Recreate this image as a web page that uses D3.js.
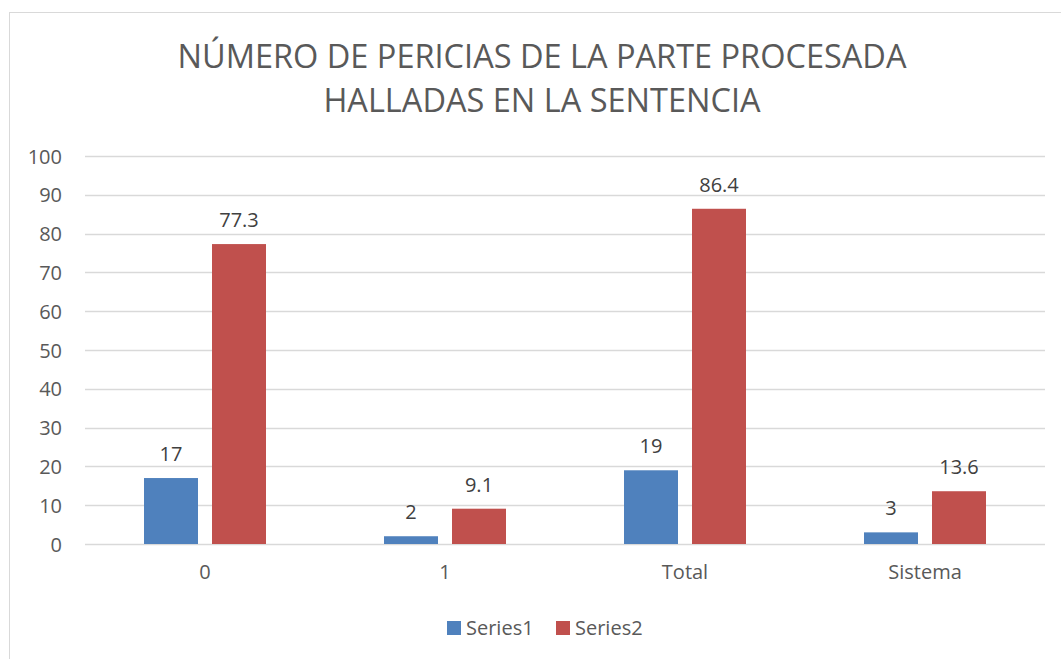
<!DOCTYPE html>
<html>
<head>
<meta charset="utf-8">
<script src="https://cdn.jsdelivr.net/npm/d3@7"></script>
<style>
  body { margin: 0; background: #fff; }
  svg { display: block; }
  text { font-family: "Open Sans", "Liberation Sans", sans-serif; fill: #595959; }
</style>
</head>
<body>
<svg id="chart" width="1061" height="659"></svg>
<script>
// datos del gráfico
const categories = ['0', '1', 'Total', 'Sistema']
const series1 = [17, 2, 19, 3]
const series2 = [77.3, 9.1, 86.4, 13.6]
const seriesNames = ['Series1', 'Series2']
const yTicks = [0, 10, 20, 30, 40, 50, 60, 70, 80, 90, 100]
const titleLines = ['NÚMERO DE PERICIAS DE LA PARTE PROCESADA', 'HALLADAS EN LA SENTENCIA']

const colors = ['#4F81BD', '#C0504D']
const width = 1061
const height = 659
const margin = { top: 156, right: 16, bottom: 115, left: 85 }
const groupWidth = 122

const svg = d3.select('#chart')

// borde del área del gráfico
svg.append('rect')
  .attr('x', 9.5).attr('y', 12.5)
  .attr('width', 1070).attr('height', 700)
  .attr('fill', 'none')
  .attr('stroke', '#d9d9d9')

// título
const title = svg.append('g').attr('class', 'title')
titleLines.forEach((line, i) => {
  title.append('text')
    .attr('x', 542)
    .attr('y', 68 + i * 44)
    .attr('text-anchor', 'middle')
    .style('font-size', '32.5px')
    .text(line)
})

const x0 = d3.scaleBand()
  .domain(categories)
  .range([margin.left, width - margin.right])

const x1 = d3.scaleBand()
  .domain(seriesNames)
  .range([0, groupWidth])
  .paddingInner(0.206)

const y = d3.scaleLinear()
  .domain([0, 100])
  .range([height - margin.bottom, margin.top])

// líneas de cuadrícula
svg.append('g').attr('class', 'grid')
  .selectAll('line')
  .data(yTicks)
  .join('line')
  .attr('x1', margin.left)
  .attr('x2', width - margin.right)
  .attr('y1', d => Math.round(y(d)) + 0.5)
  .attr('y2', d => Math.round(y(d)) + 0.5)
  .attr('stroke', '#d9d9d9')
  .attr('stroke-width', 1.3)

// eje Y
const yAxis = svg.append('g')
  .attr('transform', `translate(${margin.left - 23},0)`)
  .call(d3.axisLeft(y).tickValues(yTicks).tickSize(0).tickPadding(0))
yAxis.select('.domain').remove()
yAxis.selectAll('text')
  .style('font-size', '20px')
  .attr('fill', '#595959')
  .attr('dy', '0.35em')

// eje X
const xAxis = svg.append('g')
  .attr('transform', `translate(0,${height - margin.bottom})`)
  .call(d3.axisBottom(x0).tickSize(0).tickPadding(21))
xAxis.select('.domain').remove()
xAxis.selectAll('text')
  .style('font-size', '20px')
  .attr('fill', '#595959')

// barras
const rows = categories.map((c, i) => ({ cat: c, values: [series1[i], series2[i]] }))
const groups = svg.append('g').selectAll('g')
  .data(rows)
  .join('g')
  .attr('transform', d => `translate(${x0(d.cat) + (x0.bandwidth() - groupWidth) / 2},0)`)

groups.selectAll('rect')
  .data(d => d.values.map((v, j) => ({ name: seriesNames[j], value: v, j })))
  .join('rect')
  .attr('x', d => x1(d.name))
  .attr('width', x1.bandwidth())
  .attr('y', d => y(d.value))
  .attr('height', d => y(0) - y(d.value))
  .attr('fill', d => colors[d.j])

groups.selectAll('text.label')
  .data(d => d.values.map((v, j) => ({ name: seriesNames[j], value: v, j })))
  .join('text')
  .attr('class', 'label')
  .attr('x', d => x1(d.name) + x1.bandwidth() / 2)
  .attr('y', d => y(d.value) - 17)
  .attr('text-anchor', 'middle')
  .style('font-size', '20px')
  .style('fill', '#404040')
  .text(d => d.value)

// leyenda
const legend = svg.append('g').attr('transform', 'translate(447,628)')
const legendX = [0, 109]
seriesNames.forEach((name, i) => {
  const g = legend.append('g').attr('transform', `translate(${legendX[i]},0)`)
  g.append('rect')
    .attr('x', 0).attr('y', -7)
    .attr('width', 14).attr('height', 14)
    .attr('fill', colors[i])
  g.append('text')
    .attr('x', 19)
    .attr('y', 0)
    .attr('dy', '0.35em')
    .style('font-size', '20px')
    .text(name)
})
</script>
</body>
</html>
